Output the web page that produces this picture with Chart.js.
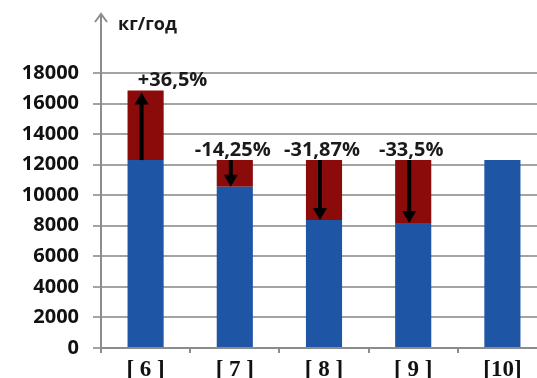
<!DOCTYPE html>
<html>
<head>
<meta charset="utf-8">
<script src="https://cdn.jsdelivr.net/npm/chart.js@4/dist/chart.umd.min.js"></script>
<style>
  html, body { margin: 0; padding: 0; background: #fff; overflow: hidden; }
  /* область графика в оригинале обрезана справа */
  #wrap { width: 547px; height: 378px; position: relative; }
</style>
</head>
<body>
<div id="wrap"><canvas id="chart"></canvas></div>
<script>
// Источники
const categories = ['[ 6 ]', '[ 7 ]', '[ 8 ]', '[ 9 ]', '[10]'];
// Синяя часть столбца (кг/год)
const baseValues = [12300, 10550, 8380, 8180, 12300];
// Красная часть (изменение)
const deltaValues = [4560, 1750, 3920, 4120, 0];
// Подписи изменений и направление стрелок
const changeLabels = ['+36,5%', '-14,25%', '-31,87%', '-33,5%', ''];
const arrowUp = [true, false, false, false, null];
const yTicks = [0, 2000, 4000, 6000, 8000, 10000, 12000, 14000, 16000, 18000];
const unitLabel = 'кг/год';

const BLUE = '#1f55a5';
const RED = '#8b0b0b';
const GRID = '#a3a3a3';

// стрелки, подписи процентов и ось со стрелкой
const annotate = {
  id: 'annotate',
  afterDatasetsDraw(chart) {
    const ctx = chart.ctx;
    const y = chart.scales.y;
    const area = chart.chartArea;
    const meta = chart.getDatasetMeta(0);

    // ось Y уходит вверх со стрелкой
    ctx.save();
    ctx.strokeStyle = '#8c8c8c';
    ctx.lineWidth = 2;
    ctx.beginPath();
    ctx.moveTo(area.left, area.top);
    ctx.lineTo(area.left, 14);
    ctx.moveTo(area.left - 6, 22);
    ctx.lineTo(area.left, 14);
    ctx.lineTo(area.left + 6, 22);
    ctx.stroke();

    ctx.fillStyle = '#1a1a1a';
    ctx.font = 'bold 18px "Open Sans", sans-serif';
    ctx.textAlign = 'left';
    ctx.textBaseline = 'middle';
    ctx.fillText(unitLabel, area.left + 17, 25);

    meta.data.forEach((bar, i) => {
      if (arrowUp[i] === null) return;
      const yBase = y.getPixelForValue(baseValues[i]);
      const yTop = y.getPixelForValue(baseValues[i] + deltaValues[i]);
      const x = bar.x - 4;
      let from, to;
      if (arrowUp[i]) {
        from = yBase;
        to = yTop + 2;
      } else {
        from = yTop;
        to = yBase;
      }
      const dir = to < from ? -1 : 1;
      ctx.strokeStyle = '#000';
      ctx.fillStyle = '#000';
      ctx.lineWidth = 4;
      ctx.beginPath();
      ctx.moveTo(x, from);
      ctx.lineTo(x, to - dir * 10);
      ctx.stroke();
      ctx.beginPath();
      ctx.moveTo(x - 7, to - dir * 12);
      ctx.lineTo(x, to);
      ctx.lineTo(x + 7, to - dir * 12);
      ctx.closePath();
      ctx.fill();

      ctx.fillStyle = '#1a1a1a';
      ctx.font = 'bold 20px "Open Sans", sans-serif';
      ctx.textAlign = 'center';
      ctx.textBaseline = 'middle';
      const lx = arrowUp[i] ? bar.x + 27 : bar.x - 2;
      ctx.fillText(changeLabels[i], lx, yTop - 10);
    });
    ctx.restore();
  }
};

new Chart(document.getElementById('chart'), {
  type: 'bar',
  data: {
    labels: categories,
    datasets: [
      { data: baseValues, backgroundColor: BLUE, barPercentage: 0.81, categoryPercentage: 0.5 },
      { data: deltaValues, backgroundColor: RED, barPercentage: 0.81, categoryPercentage: 0.5 }
    ]
  },
  options: {
    responsive: true,
    maintainAspectRatio: false,
    animation: false,
    layout: { padding: { top: 73, right: 0, left: 2, bottom: 0 } },
    plugins: { legend: { display: false }, tooltip: { enabled: false } },
    scales: {
      x: {
        stacked: true,
        afterFit: (s) => { s.height = 30; },
        border: { color: '#8c8c8c', width: 2 },
        grid: { offset: true, drawOnChartArea: false, tickLength: 5, color: '#8c8c8c', lineWidth: 2 },
        ticks: {
          color: '#111',
          padding: 3,
          font: { family: '"Liberation Serif", serif', size: 23, weight: 'bold' }
        }
      },
      y: {
        stacked: true,
        min: 0,
        max: 18000,
        afterFit: (s) => { s.width = 99; },
        afterBuildTicks: (s) => { s.ticks = yTicks.map(v => ({ value: v })); },
        border: { color: '#8c8c8c', width: 2 },
        grid: { color: GRID, lineWidth: 2, tickLength: 8 },
        ticks: {
          color: '#111',
          padding: 14,
          callback: (v) => String(v),
          font: { family: '"Open Sans", sans-serif', size: 20, weight: 'bold' }
        }
      }
    }
  },
  plugins: [annotate]
});
</script>
</body>
</html>
